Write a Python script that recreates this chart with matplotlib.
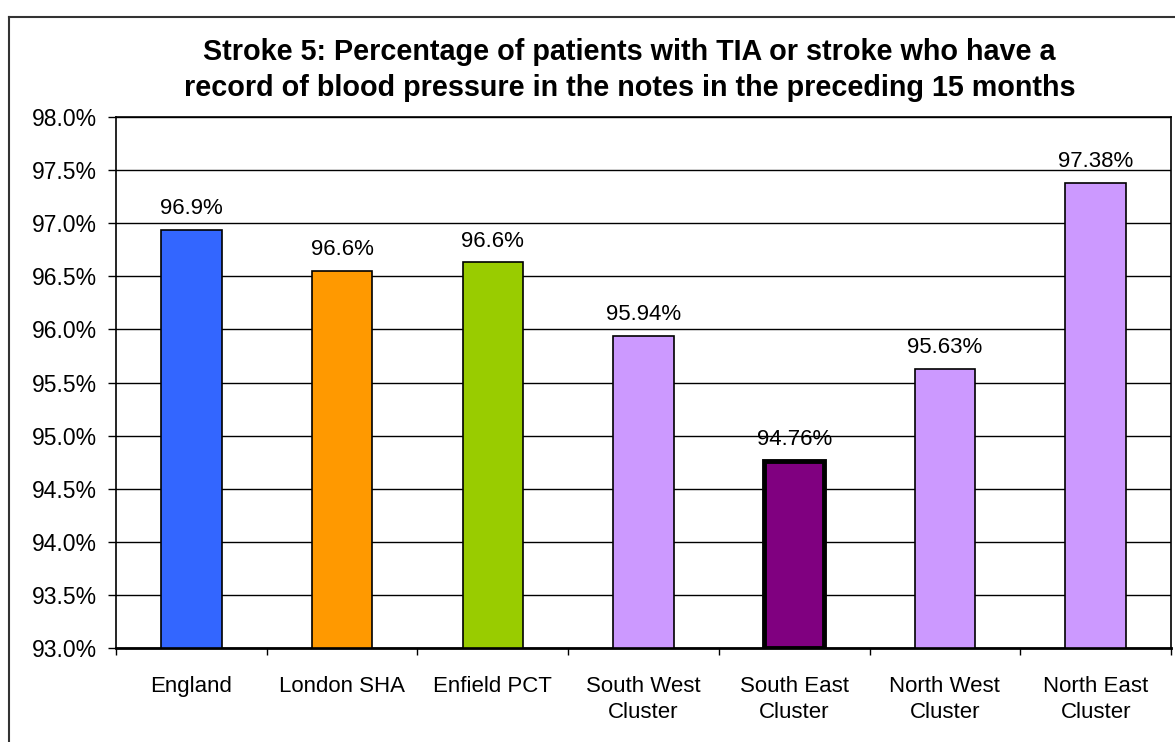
import matplotlib.pyplot as plt
from matplotlib.lines import Line2D
from matplotlib.ticker import FuncFormatter, MultipleLocator

categories = ['England', 'London SHA', 'Enfield PCT', 'South West\nCluster',
              'South East\nCluster', 'North West\nCluster', 'North East\nCluster']
values = [96.94, 96.55, 96.63, 95.94, 94.76, 95.63, 97.38]
value_labels = ['96.9%', '96.6%', '96.6%', '95.94%', '94.76%', '95.63%', '97.38%']
colors = ['#3366FF', '#FF9900', '#99CC00', '#CC99FF', '#800080', '#CC99FF', '#CC99FF']
edge_widths = [1.2, 1.2, 1.2, 1.2, 3.5, 1.2, 1.2]

plt.rcParams['font.family'] = ['Liberation Sans', 'DejaVu Sans']

fig = plt.figure(figsize=(11.75, 7.42), dpi=100)
ax = fig.add_axes([116 / 1175, 1 - 648 / 742, (1171 - 116) / 1175, (648 - 117) / 742])

x = list(range(len(categories)))
ax.bar(x, [v - 93 for v in values], bottom=93, width=0.4, color=colors,
       edgecolor='black', linewidth=edge_widths, zorder=3)

for xi, v, lab in zip(x, values, value_labels):
    ax.text(xi, v + 0.1, lab, ha='center', va='bottom', fontsize=16)

ax.set_xlim(-0.5, len(categories) - 0.5)
ax.set_ylim(93, 98)
ax.yaxis.set_major_locator(MultipleLocator(0.5))
ax.yaxis.set_major_formatter(FuncFormatter(lambda v, p: '%.1f%%' % v))
ax.grid(axis='y', color='black', linewidth=1, zorder=0)

ax.set_xticks([i - 0.5 for i in range(len(categories) + 1)])
ax.set_xticklabels([])
ax.set_xticks(x, minor=True)
ax.set_xticklabels(categories, minor=True, fontsize=16, linespacing=1.3)
ax.tick_params(axis='x', which='minor', length=0, pad=20)
ax.tick_params(axis='x', which='major', length=5, width=1, direction='out')
ax.tick_params(axis='y', length=6, width=1, labelsize=16.5, pad=8)

for s in ax.spines.values():
    s.set_linewidth(1.2)
ax.spines['bottom'].set_linewidth(2)

fig.text(0.5 + 42 / 1175, 1 - 70 / 742,
         'Stroke 5: Percentage of patients with TIA or stroke who have a\n'
         'record of blood pressure in the notes in the preceding 15 months',
         ha='center', va='center', fontsize=20.7, fontweight='bold', linespacing=1.4)

# chart border
fig.add_artist(Line2D([9 / 1175, 9 / 1175], [0, 1 - 17 / 742], color='#333333', linewidth=1.5))
fig.add_artist(Line2D([9 / 1175, 1], [1 - 17 / 742, 1 - 17 / 742], color='#333333', linewidth=1.5))

fig.savefig('out.png', dpi=100)
